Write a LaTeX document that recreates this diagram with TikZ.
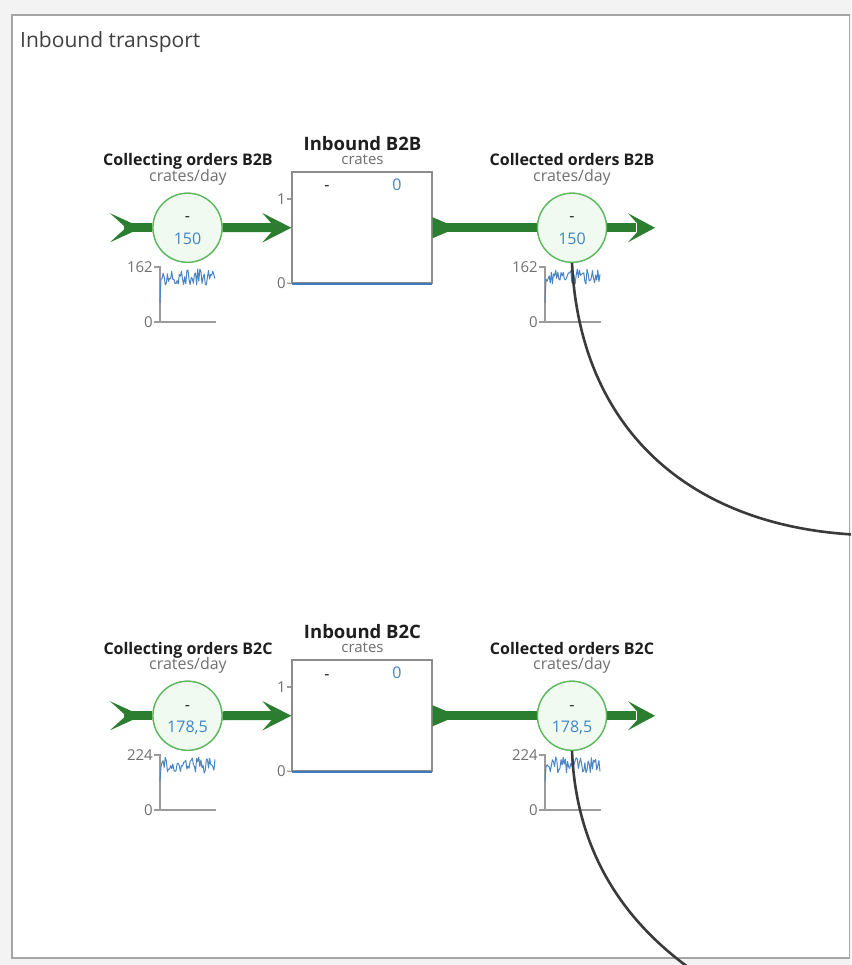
\documentclass[tikz,border=0pt]{standalone}
\usepackage{fontspec}
\setmainfont{Open Sans}
\definecolor{flowgreen}{HTML}{2B7D2F}
\definecolor{ringgreen}{HTML}{5DB760}
\definecolor{ringfill}{HTML}{F1FAF1}
\definecolor{valblue}{HTML}{3D85C6}
\definecolor{sparkblue}{HTML}{4A86C5}
\definecolor{levelblue}{HTML}{3F7CC0}
\definecolor{unitgray}{HTML}{707070}
\definecolor{axisgray}{HTML}{9B9B9B}
\definecolor{boxgray}{HTML}{8C8C8C}
\definecolor{titleblack}{HTML}{1E1E1E}
\definecolor{linkgray}{HTML}{3A3A3A}
\definecolor{panelgray}{HTML}{A5A5A5}
\definecolor{outerbg}{HTML}{F3F3F3}

% one inbound row: stock with its inflow and outflow
% #1 tag, #2 vertical offset, #3 rate value, #4 sparkline max, #5 seed, #6 sparkline start
\newcommand\inboundrow[6]{%
\begin{scope}[yshift=-#2pt]
  % rates and stock
  \node[ratecirc] (rin#1)  at (187.5,227.75) {};
  \node[ratecirc] (rout#1) at (572,227.75) {};
  \node[stockbox] (stock#1) at (362,227.5) {};
  \coordinate (tail#1) at (110,227.75);
  \coordinate (sink#1) at (655,227.75);
  % inflow pipe
  \fill[pipe] (tail#1) ++(0,-14.5) -- ++(22,10) -- ++(0,9) -- ++(-22,10) -- ++(16,-14.5) -- cycle;
  \draw[bar] ([xshift=14pt]tail#1) -- (rin#1.west);
  \draw[bar] (rin#1.east) -- ([xshift=-19pt]stock#1.west);
  \fill[pipe] (stock#1.west |- tail#1) -- ++(-29,-14.75) -- ++(9,10.25) -- ++(0,9) -- ++(-9,10.25) -- cycle;
  % outflow pipe
  \fill[pipe] (stock#1.east |- tail#1) ++(0,-10.5) -- ++(14,6) -- ++(0,9) -- ++(-14,6) -- cycle;
  \draw[bar] (stock#1.east |- tail#1) -- (rout#1.west);
  \draw[bar] (rout#1.east) -- ([xshift=-19pt]sink#1);
  \fill[pipe] (sink#1) -- ++(-27,-14.5) -- ++(9,10) -- ++(0,9) -- ++(-9,10) -- cycle;
  % redraw the rate circles over the pipes
  \node[ratecirc] at (rin#1) {};
  \node[ratecirc] at (rout#1) {};
  % labels of the inflow rate
  \node[titletext] (tin#1) at (188,166) {Collecting orders B2#1};
  \node[unittext] (uin#1) at (188,181.5) {crates/day};
  \node[valtext, text=titleblack] (din#1) at (187.5,222) {-};
  \node[valtext] (vin#1) at (187.5,244.5) {#3};
  % labels of the outflow rate
  \node[titletext] (tout#1) at (572,166) {Collected orders B2#1};
  \node[unittext] (uout#1) at (572,181.5) {crates/day};
  \node[valtext, text=titleblack] (dout#1) at (572,222) {-};
  \node[valtext] (vout#1) at (572,244.5) {#3};
  % stock labels and scale
  \node[stocktitle] (ts#1) at (362.5,150.5) {Inbound B2#1};
  \node[unittext, font=\fontsize{15}{17}\selectfont] (us#1) at (362.5,164.5) {crates};
  \node[valtext, text=titleblack] (ds#1) at (327,191) {-};
  \node[valtext] (vs#1) at (397,190.5) {0};
  \draw[axis] (287,199) -- (stock#1.west |- 0,199);
  \draw[axis] (287,283) -- (stock#1.south west);
  \node[axlabel] (s1#1) at (286,199) {1};
  \node[axlabel] (s0#1) at (286,283) {0};
  \draw[levelline] ([xshift=0.7pt]stock#1.south west) -- ([xshift=-0.7pt]stock#1.south east);
  % sparklines under the rates
  \foreach \sx/\sd in {160/#5, 545/#5+11} {
    \draw[axis] (\sx-6,267) -- (\sx,267) -- (\sx,322) -- (\sx+56,322);
    \draw[axis] (\sx-6,322) -- (\sx,322);
    \node[axlabel] at (\sx-7,267) {#4};
    \node[axlabel] at (\sx-7,322) {0};
    \pgfmathsetseed{\sd}
    \draw[spark] (\sx,#6) -- (\sx+1,279) -- plot[domain=\sx+2:\sx+55, samples=50] (\x,{277+8*rand});
  }
\end{scope}}

\begin{document}
\begin{tikzpicture}[x=1pt, y=-1pt,
  pipe/.style={fill=flowgreen, draw=none},
  bar/.style={draw=flowgreen, line width=9pt},
  ratecirc/.style={circle, draw=ringgreen, line width=1.3pt, fill=ringfill,
    minimum size=69pt, inner sep=0pt},
  stockbox/.style={rectangle, draw=boxgray, line width=1.3pt, fill=white,
    minimum width=140pt, minimum height=111pt, inner sep=0pt},
  titletext/.style={font=\bfseries\fontsize{16}{19}\selectfont, text=titleblack,
    anchor=base, inner sep=0pt},
  stocktitle/.style={font=\bfseries\fontsize{18.5}{21}\selectfont, text=titleblack,
    anchor=base, inner sep=0pt},
  unittext/.style={font=\fontsize{16}{19}\selectfont, text=unitgray,
    anchor=base, inner sep=0pt},
  valtext/.style={font=\fontsize{16}{19}\selectfont, text=valblue,
    anchor=base, inner sep=0pt},
  axlabel/.style={font=\fontsize{15}{17}\selectfont, text=unitgray,
    anchor=east, inner sep=0pt},
  axis/.style={draw=axisgray, line width=1.2pt},
  levelline/.style={draw=levelblue, line width=2pt},
  spark/.style={draw=sparkblue, line width=1pt, line join=round},
  link/.style={draw=linkgray, line width=2.6pt},
]
\useasboundingbox (0,0) rectangle (851,965);
\clip (0,0) rectangle (851,965);
% window frame
\fill[outerbg] (0,0) rectangle (851,965);
\draw[panelgray, line width=1.6pt, fill=white] (12,15) rectangle (849.5,958);
\node[font=\fontsize{21}{25}\selectfont, text=titleblack!85, anchor=base west,
  inner sep=0pt] (paneltitle) at (20,48) {Inbound transport};

\inboundrow{B}{0}{150}{162}{7}{303}
\inboundrow{C}{488}{178,5}{224}{19}{293}

% links leaving the collected-orders rates
\coordinate (linkendB) at (853,534.5);
\coordinate (linkendC) at (692,970);
\draw[link] (routB.south) .. controls (580,430) and (690,525) .. (linkendB);
\draw[link] (routC.south) .. controls (576,850) and (622,920) .. (linkendC);
\end{tikzpicture}
\end{document}
